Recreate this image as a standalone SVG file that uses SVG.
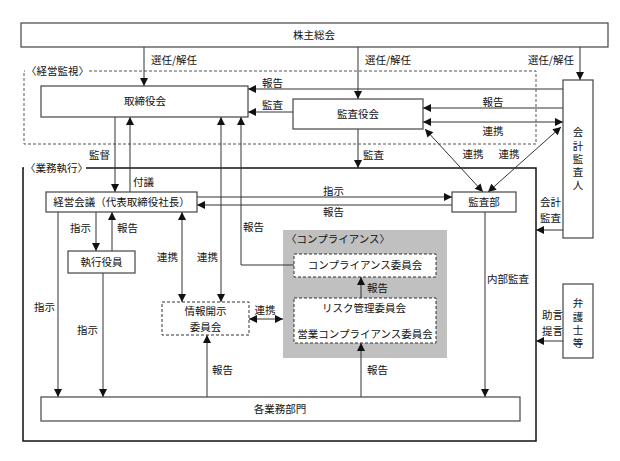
<svg xmlns="http://www.w3.org/2000/svg" width="620" height="461" viewBox="0 0 620 461">
<style>
text{font-family:"Noto Sans CJK JP","Noto Sans CJK SC",sans-serif;font-size:10.5px;fill:#111}
.c{text-anchor:middle}
.e{text-anchor:end}
.v{writing-mode:vertical-rl;letter-spacing:2.8px}
.box{fill:#fff;stroke:#444;stroke-width:1.2}
.dbox{fill:#fff;stroke:#333;stroke-width:1;stroke-dasharray:3,2}
.ln{fill:none;stroke:#333;stroke-width:1}
.a{marker-end:url(#ah)}
.aa{marker-end:url(#ah);marker-start:url(#ah)}
</style>
<defs>
<marker id="ah" viewBox="0 0 10 10" refX="10" refY="5" markerWidth="9" markerHeight="8" markerUnits="userSpaceOnUse" orient="auto-start-reverse">
<path d="M0,0 L10,5 L0,10 z" fill="#111"/>
</marker>
</defs>
<rect width="620" height="461" fill="#fff"/>

<!-- frames -->
<g id="keiei-kanshi">
<rect x="24" y="71" width="512" height="73" fill="none" stroke="#555" stroke-width="1" stroke-dasharray="3,2"/>
<rect x="25" y="64" width="62" height="14" fill="#fff"/>
<text x="26" y="75">〈経営監視〉</text>
</g>
<g id="gyomu-shikko">
<rect x="23" y="168" width="513" height="273" fill="none" stroke="#111" stroke-width="1.5"/>
<rect x="24" y="161" width="62" height="14" fill="#fff"/>
<text x="25" y="172">〈業務執行〉</text>
</g>
<g id="compliance-area">
<rect x="283" y="230" width="164" height="128" fill="#c0c0c0"/>
<text x="286" y="243">〈コンプライアンス〉</text>
</g>

<g id="connectors">
<line class="ln a" x1="144" y1="47" x2="144" y2="86"/>
<line class="ln a" x1="358" y1="47" x2="358" y2="99"/>
<line class="ln a" x1="580" y1="47" x2="580" y2="80"/>
<line class="ln a" x1="563" y1="89" x2="248" y2="89"/>
<line class="ln a" x1="293" y1="112" x2="248" y2="112"/>
<line class="ln a" x1="563" y1="108" x2="423" y2="108"/>
<line class="ln aa" x1="423" y1="122" x2="563" y2="122"/>
<line class="ln aa" x1="425" y1="129" x2="483" y2="192"/>
<line class="ln aa" x1="561" y1="127" x2="488" y2="192"/>
<line class="ln a" x1="115" y1="117" x2="115" y2="192"/>
<line class="ln a" x1="130" y1="192" x2="130" y2="117"/>
<line class="ln aa" x1="221" y1="117" x2="221" y2="302"/>
<polyline class="ln" points="294,265 241,265 241,117" marker-end="url(#ah)"/>
<line class="ln a" x1="358" y1="129" x2="358" y2="168"/>
<line class="ln a" x1="563" y1="230" x2="536" y2="230"/>
<line class="ln a" x1="197" y1="197" x2="452" y2="197"/>
<line class="ln a" x1="452" y1="205" x2="197" y2="205"/>
<line class="ln a" x1="485" y1="212" x2="485" y2="397"/>
<line class="ln a" x1="96" y1="212" x2="96" y2="251"/>
<line class="ln a" x1="112" y1="251" x2="112" y2="212"/>
<line class="ln a" x1="58" y1="212" x2="58" y2="397"/>
<line class="ln a" x1="103" y1="273" x2="103" y2="397"/>
<line class="ln aa" x1="182" y1="212" x2="182" y2="302"/>
<line class="ln a" x1="207" y1="397" x2="207" y2="335"/>
<line class="ln aa" x1="249" y1="319" x2="283" y2="319"/>
<line class="ln a" x1="361" y1="298" x2="361" y2="277"/>
<line class="ln a" x1="361" y1="397" x2="361" y2="343"/>
<line class="ln a" x1="563" y1="341" x2="536" y2="341"/>
</g>

<g id="labels">
<text x="151" y="64">選任/解任</text>
<text x="365" y="64">選任/解任</text>
<text class="e" x="574" y="64">選任/解任</text>
<text x="262" y="87">報告</text>
<text x="262" y="109">監査</text>
<text class="c" x="493" y="106">報告</text>
<text class="c" x="493" y="135">連携</text>
<text class="c" x="473" y="158">連携</text>
<text class="c" x="509" y="158">連携</text>
<text x="89" y="159">監督</text>
<text x="133" y="186">付議</text>
<text x="363" y="159">監査</text>
<text x="540" y="206">会計</text>
<text x="540" y="222">監査</text>
<text x="323" y="195">指示</text>
<text x="323" y="216">報告</text>
<text x="70" y="232">指示</text>
<text x="117" y="232">報告</text>
<text x="243" y="231">報告</text>
<text x="157" y="261">連携</text>
<text x="197" y="261">連携</text>
<text x="487" y="283">内部監査</text>
<text x="34" y="311">指示</text>
<text x="77" y="334">指示</text>
<text class="c" x="265" y="314">連携</text>
<text x="367" y="292">報告</text>
<text x="212" y="374">報告</text>
<text x="367" y="374">報告</text>
<text x="542" y="319">助言</text>
<text x="542" y="335">提言</text>
</g>

<g id="kabunushi-sokai">
<rect class="box" x="21" y="23" width="587" height="24"/>
<text class="c" x="314" y="39">株主総会</text>
</g>
<g id="torishimariyakukai">
<rect class="box" x="41" y="86" width="207" height="31"/>
<text class="c" x="145" y="105">取締役会</text>
</g>
<g id="kansayakukai">
<rect class="box" x="293" y="99" width="130" height="30"/>
<text class="c" x="358" y="118">監査役会</text>
</g>
<g id="kaikei-kansanin">
<rect class="box" x="563" y="80" width="30" height="158"/>
<text class="v" x="578" y="127">会計監査人</text>
</g>
<g id="keiei-kaigi">
<rect class="box" x="46" y="192" width="151" height="20"/>
<text class="c" x="121.5" y="206">経営会議（代表取締役社長）</text>
</g>
<g id="kansabu">
<rect class="box" x="452" y="192" width="64" height="20"/>
<text class="c" x="484" y="206">監査部</text>
</g>
<g id="shikko-yakuin">
<rect class="box" x="68" y="251" width="67" height="22"/>
<text class="c" x="101.5" y="266">執行役員</text>
</g>
<g id="joho-kaiji">
<rect class="dbox" x="162" y="302" width="87" height="33"/>
<text class="c" x="205.5" y="315">情報開示</text>
<text class="c" x="205.5" y="331">委員会</text>
</g>
<g id="compliance-iinkai">
<rect class="dbox" x="294" y="254" width="142" height="23"/>
<text class="c" x="365" y="269">コンプライアンス委員会</text>
</g>
<g id="risk-iinkai">
<rect class="dbox" x="294" y="298" width="142" height="45"/>
<text class="c" x="364" y="312">リスク管理委員会</text>
<text class="c" x="365" y="338">営業コンプライアンス委員会</text>
</g>
<g id="bengoshi">
<rect class="box" x="563" y="284" width="30" height="74"/>
<text class="v" x="578" y="298">弁護士等</text>
</g>
<g id="kaku-gyomubumon">
<rect class="box" x="41" y="397" width="479" height="24"/>
<text class="c" x="280" y="413">各業務部門</text>
</g>
</svg>
